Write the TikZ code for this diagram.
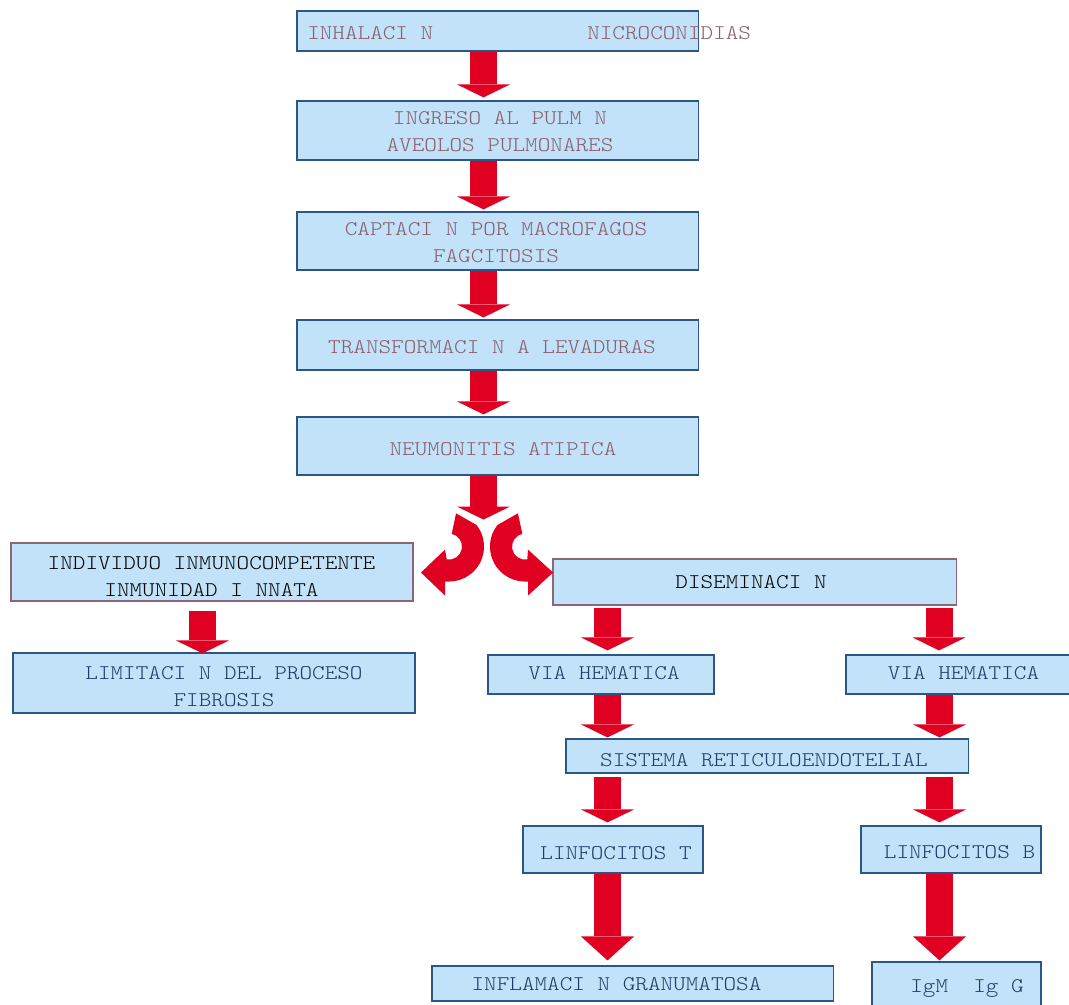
\documentclass[tikz,border=0pt]{standalone}
\usepackage{fontspec}
\newfontfamily\flowfont[FakeStretch=1.15]{Latin Modern Mono Light}
\usetikzlibrary{positioning, calc, arrows.meta}
\definecolor{boxfill}{HTML}{C1E2F8}
\definecolor{boxblue}{HTML}{2A5784}
\definecolor{boxmauve}{HTML}{8E6677}
\definecolor{textmauve}{HTML}{8A5C6C}
\definecolor{textblue}{HTML}{1E3C66}
\definecolor{arrowred}{HTML}{E00022}
\tikzset{
	flowbox/.style={
			shape=rectangle,
			draw=boxblue,
			fill=boxfill,
			line width=0.8pt,
			inner sep=0pt
		},
	pinkbox/.style={
			flowbox,
			draw=boxmauve
		},
	flowtext/.style={
			font=\flowfont\fontsize{14.84}{19.2}\selectfont,
			inner sep=0pt,
			align=center,
			text=textblue
		},
	toptext/.style={
			flowtext,
			text=textmauve
		},
	blacktext/.style={
			flowtext,
			text=black
		}
}
\tikzset{
	bigarrow/.style={
			draw=arrowred,
			line width=0.675cm,
			-{Triangle[width=1.325cm, length=0.325cm, line width=0pt]}
		},
	longarrow/.style={
			bigarrow,
			-{Triangle[width=1.325cm, length=0.6cm, line width=0pt]}
		}
}
\newcommand{\flowarrow}[6][bigarrow]{%
  \draw[#1] ($(#2.south)+(#3,#4)$) coordinate (tmp) -- ($(tmp |- #5.north)+(0,#6)$);}

\begin{document}
\begin{tikzpicture}[x=0.025cm, y=-0.025cm]

  \path[use as bounding box, clip] (0,0) rectangle (1069,1004);

  % main column
  \node[flowbox, minimum width=10.025cm, minimum height=1cm] (inh) at (497.5,31) {};
  \node[flowbox, minimum width=10.025cm, minimum height=1.475cm] (ing) at (497.5,130.5) {};
  \node[flowbox, minimum width=10.025cm, minimum height=1.45cm] (cap) at (497.5,241) {};
  \node[flowbox, minimum width=10.025cm, minimum height=1.25cm] (tra) at (497.5,345) {};
  \node[flowbox, minimum width=10.025cm, minimum height=1.45cm] (neu) at (497.5,446) {};

  % two branches
  \node[pinkbox, minimum width=10.05cm, minimum height=1.45cm] (ind) at (212,572) {};
  \node[pinkbox, minimum width=10.075cm, minimum height=1.15cm] (dis) at (754.5,582) {};
  \node[flowbox, minimum width=10.05cm, minimum height=1.5cm] (lim) at (214,683) {};
  \node[flowbox, minimum width=5.65cm, minimum height=0.975cm] (via1) at (601,674.5) {};
  \node[flowbox, minimum width=6.1cm, minimum height=0.975cm] (via2) at (968,674.5) {};
  \node[flowbox, minimum width=10.05cm, minimum height=0.85cm] (sis) at (767,756) {};
  \node[flowbox, minimum width=4.5cm, minimum height=1.175cm] (lt) at (613,849.5) {};
  \node[flowbox, minimum width=4.5cm, minimum height=1.175cm] (lb) at (951,849.5) {};
  \node[flowbox, minimum width=10.025cm, minimum height=0.875cm] (inf) at (632.5,983.5) {};
  \node[flowbox, minimum width=4.225cm, minimum height=1.25cm] (ig) at (956.5,987) {};

  \node[toptext, anchor=west] (inha) at ($(inh)+(-190.5,2)$) {INHALACI N};
  \node[toptext, anchor=west] (inhb) at ($(inh)+(89.5,2)$) {NICROCONIDIAS};
  \node[toptext] (ingt) at ($(ing)+(2.5,1)$) {INGRESO AL PULM N\\AVEOLOS PULMONARES};
  \node[toptext] (capt) at ($(cap)+(-1.5,1.5)$) {CAPTACI N POR MACROFAGOS\\FAGCITOSIS};
  \node[toptext] (trat) at ($(tra)+(-5.5,2)$) {TRANSFORMACI N A LEVADURAS};
  \node[toptext] (neut) at ($(neu)+(5.5,3)$) {NEUMONITIS ATIPICA};
  \node[blacktext] (indt) at ($(ind)+(-0.5,4.5)$) {INDIVIDUO INMUNOCOMPETENTE\\INMUNIDAD I NNATA};
  \node[blacktext] (dist) at ($(dis)+(-3.5,0)$) {DISEMINACI N};
  \node[flowtext] (limt) at ($(lim)+(10,3.5)$) {LIMITACI N DEL PROCESO\\FIBROSIS};
  \node[flowtext] (via1t) at ($(via1)+(3,-1.5)$) {VIA HEMATICA};
  \node[flowtext] (via2t) at ($(via2)+(-4.5,-1.5)$) {VIA HEMATICA};
  \node[flowtext] (sist) at ($(sis)+(-3,4.5)$) {SISTEMA RETICULOENDOTELIAL};
  \node[flowtext] (ltt) at ($(lt)+(3,3.5)$) {LINFOCITOS T};
  \node[flowtext] (lbt) at ($(lb)+(8.5,2.5)$) {LINFOCITOS B};
  \node[flowtext] (inft) at ($(inf)+(-16,0.5)$) {INFLAMACI N GRANUMATOSA};
  \node[flowtext, anchor=base] (igt) at ($(ig)+(10.5,5.3)$) {IgM~~Ig G};

  % arrows
  \flowarrow{inh}{-14}{0}{ing}{-3}
  \flowarrow{ing}{-14}{0}{cap}{-2}
  \flowarrow{cap}{-14}{0}{tra}{-2}
  \flowarrow{tra}{-14}{0}{neu}{-2}
  \coordinate (split) at ($(neu.south)+(-14,44)$);
  \draw[bigarrow] ($(neu.south)+(-14,0)$) -- (split);

  \coordinate (cl) at ($(split)+(-34.5,27)$);
  \coordinate (cr) at ($(split)+(41.5,27)$);
  \fill[arrowred] ($(cl)+(-78:34)$) -- ($(cl)+(-38:35)$) arc[start angle=-38, end angle=90, radius=35]
    -- ++(-4,0) -- ++(0,14) -- ++(-24,-23) -- ++(24,-23) -- ($(cl)+(100:13)$)
    arc[start angle=100, end angle=-78, radius=13] -- cycle;
  \fill[arrowred] ($(cr)+(258:34)$) -- ($(cr)+(218:35)$) arc[start angle=218, end angle=90, radius=35]
    -- ++(3,0) -- ++(0,14) -- ++(25,-23) -- ++(-25,-23) -- ($(cr)+(80:13)$)
    arc[start angle=80, end angle=258, radius=13] -- cycle;

  \flowarrow{ind}{-9.5}{9}{lim}{1}
  \flowarrow{dis}{-147}{2}{via1}{-4}
  \flowarrow{dis}{184.5}{2}{via2}{-4}
  \flowarrow{via1}{6.5}{0}{sis}{-1}
  \flowarrow{via2}{-28.5}{0}{sis}{-1}
  \flowarrow{sis}{-159.5}{3}{lt}{-3}
  \flowarrow{sis}{172.5}{3}{lb}{-3}
  \flowarrow[longarrow]{lt}{-5.5}{0}{inf}{-5}
  \flowarrow[longarrow]{lb}{-11.5}{0}{ig}{-1}

\end{tikzpicture}
\end{document}
